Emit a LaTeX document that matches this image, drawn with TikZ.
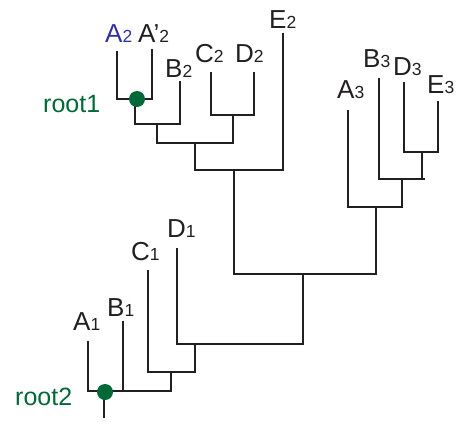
\documentclass[tikz,border=0pt]{standalone}
\usepackage{fontspec}
\setmainfont{Liberation Sans}
\definecolor{ink}{RGB}{35,31,32}
\definecolor{navy}{RGB}{50,50,160}
\definecolor{leaf}{RGB}{0,105,55}
\newcommand\taxlab[2]{{\fontsize{26}{26}\selectfont #1}{\fontsize{17.5}{17.5}\selectfont #2}}
\begin{document}
\begin{tikzpicture}[x=1pt,y=-1pt,
  branch/.style={draw=ink,line width=2.5pt},
  taxon/.style={anchor=base west,inner sep=0pt,text=ink},
  rootlab/.style={anchor=base west,inner sep=0pt,text=leaf,font=\fontsize{25}{25}\selectfont},
  rootdot/.style={circle,fill=leaf,inner sep=0pt,minimum size=16pt}]
\useasboundingbox (0,0) rectangle (465,423);
% leaf tips
\coordinate (tA2) at (117,51);
\coordinate (tAp2) at (152,49);
\coordinate (tB2) at (180,81);
\coordinate (tC2) at (211,72);
\coordinate (tD2) at (254,72);
\coordinate (tE2) at (283,33);
\coordinate (tA3) at (348,110);
\coordinate (tB3) at (379,78);
\coordinate (tD3) at (404,82);
\coordinate (tE3) at (438,101);
\coordinate (tA1) at (88,341);
\coordinate (tB1) at (123,321);
\coordinate (tC1) at (148,270);
\coordinate (tD1) at (177,248);
% internal points
\coordinate (n1) at (135,99);
\coordinate (n2) at (157,124);
\coordinate (n3) at (233,115);
\coordinate (n4) at (195,143);
\coordinate (n5) at (234,170);
\coordinate (r1) at (422,152);
\coordinate (r2) at (402,179);
\coordinate (r3) at (376,207);
\coordinate (c) at (303,274);
\coordinate (b1) at (195,344);
\coordinate (b2) at (171,372);
\coordinate (rt2) at (104,391);
\coordinate (rt2end) at (104,418);
% branches
\draw[branch] (tA2) |- (n1) -| (tAp2);
\draw[branch] (n1) |- (n2) -| (tB2);
\draw[branch] (tC2) |- (n3) -| (tD2);
\draw[branch] (n2) |- (n4) -| (n3);
\draw[branch] (n4) |- (n5) -| (tE2);
\draw[branch] (tD3) |- (r1) -| (tE3);
\draw[branch] (tB3) |- (r2) -| (r1);
\draw[branch] (r1 |- r2) -- ++(3,0);
\draw[branch] (tA3) |- (r3) -| (r2);
\draw[branch] (n5) |- (c) -| (r3);
\draw[branch] (tD1) |- (b1) -| (c);
\draw[branch] (tC1) |- (b2) -| (b1);
\draw[branch] (tA1) |- (rt2) -| (b2);
\draw[branch] (tB1) -- (tB1 |- rt2);
\draw[branch] (rt2) -- (rt2end);
% root dots
\node[rootdot] (dot1) at (137,99) {};
\node[rootdot] (dot2) at (105,392) {};
% labels
\node[taxon,text=navy] (lA2) at (105,42) {\taxlab{A}{2}};
\node[taxon] (lAp2) at (138,42) {\taxlab{A’}{2}};
\node[taxon] (lB2) at (165,77) {\taxlab{B}{2}};
\node[taxon] (lC2) at (195,62) {\taxlab{C}{2}};
\node[taxon] (lD2) at (235,62) {\taxlab{D}{2}};
\node[taxon] (lE2) at (269,28) {\taxlab{E}{2}};
\node[taxon] (lA3) at (337,98) {\taxlab{A}{3}};
\node[taxon] (lB3) at (363,67) {\taxlab{B}{3}};
\node[taxon] (lD3) at (393,75) {\taxlab{D}{3}};
\node[taxon] (lE3) at (427,93) {\taxlab{E}{3}};
\node[taxon] (lA1) at (73,330) {\taxlab{A}{1}};
\node[taxon] (lB1) at (107,316) {\taxlab{B}{1}};
\node[taxon] (lC1) at (131,260) {\taxlab{C}{1}};
\node[taxon] (lD1) at (167,237) {\taxlab{D}{1}};
\node[rootlab] (root1) at (43,112) {root1};
\node[rootlab] (root2) at (15,405) {root2};
\end{tikzpicture}
\end{document}
